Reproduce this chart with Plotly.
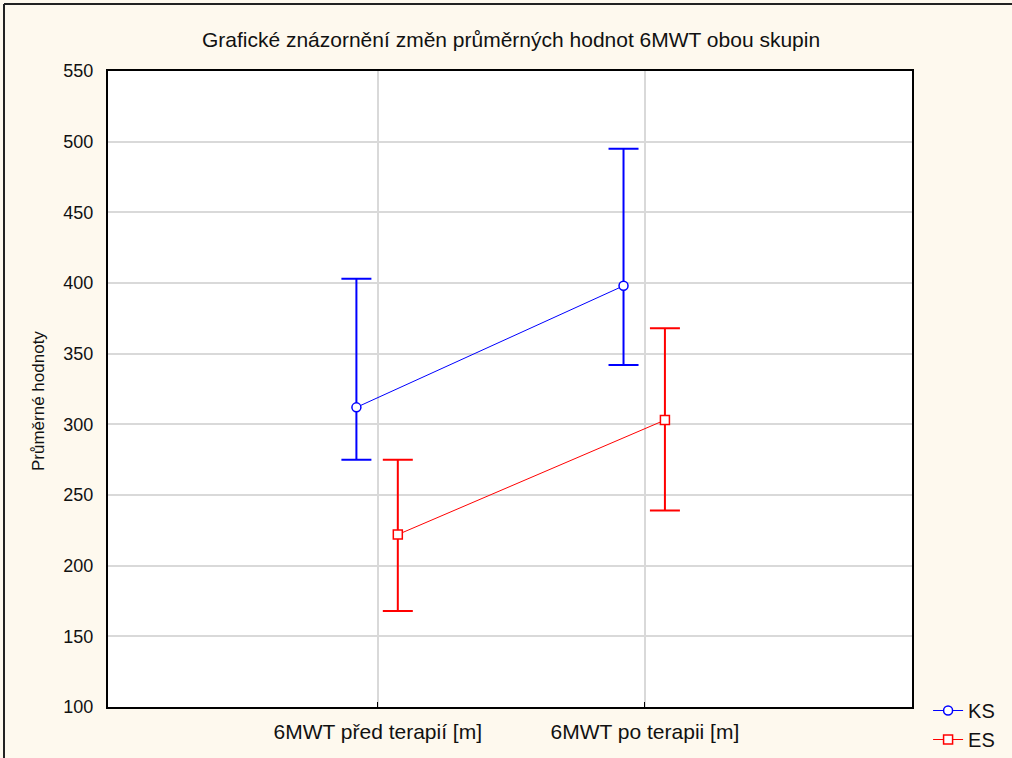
import plotly.graph_objects as go

categories = ["6MWT před terapií [m]", "6MWT po terapii [m]"]
ks_mean = [312, 398]
ks_upper = [403, 495]
ks_lower = [275, 342]
es_mean = [222, 303]
es_upper = [275, 368]
es_lower = [168, 239]

y_ticks = [100, 150, 200, 250, 300, 350, 400, 450, 500, 550]

idx = list(range(len(categories)))
ks_off, es_off = -0.08, 0.075

BG = "#FEF9EE"
W, H = 1012, 758
L, R, T, B = 108, 100, 71, 51
PW, PH = W - L - R, H - T - B

fig = go.Figure()

def add_series(name, mean, upper, lower, off, color, symbol):
    fig.add_trace(go.Scatter(
        x=[i + off for i in idx], y=mean, name=name, mode="lines+markers",
        line=dict(color=color, width=1),
        marker=dict(symbol=symbol, size=9, color="white", line=dict(color=color, width=1.5)),
        error_y=dict(type="data", symmetric=False,
                     array=[u - m for u, m in zip(upper, mean)],
                     arrayminus=[m - l for m, l in zip(mean, lower)],
                     color=color, thickness=2, width=15),
    ))

add_series("KS", ks_mean, ks_upper, ks_lower, ks_off, "#0000FF", "circle")
add_series("ES", es_mean, es_upper, es_lower, es_off, "#FF0000", "square")

font = "Liberation Sans, Arial, sans-serif"
fig.update_layout(
    width=W, height=H,
    paper_bgcolor=BG, plot_bgcolor="white",
    margin=dict(l=L, r=R, t=T, b=B, autoexpand=False),
    font=dict(family=font, size=18, color="#111111"),
    title=dict(text="Grafické znázornění změn průměrných hodnot 6MWT obou skupin",
               x=0.5 + 5 / W, xanchor="center", y=1 - 40 / H, yanchor="middle",
               font=dict(size=21)),
    showlegend=True,
    legend=dict(x=1.02, y=(H - B - 691) / PH, xanchor="left", yanchor="top",
                bgcolor="rgba(0,0,0,0)", font=dict(size=20),
                tracegroupgap=0, itemwidth=30),
    xaxis=dict(range=[-1.01, 2.0], tickvals=idx, ticktext=categories,
               showgrid=True, gridcolor="#D9D9D9", gridwidth=1.5,
               zeroline=False, showline=True, linecolor="black", linewidth=2,
               mirror=True, ticks="inside", ticklen=5, tickcolor="black",
               tickfont=dict(size=21), ticklabelstandoff=5),
    yaxis=dict(range=[100, 550], tickvals=y_ticks,
               showgrid=True, gridcolor="#D9D9D9", gridwidth=1.5,
               zeroline=False, showline=True, linecolor="black", linewidth=2,
               mirror=True, ticks="", tickfont=dict(size=18), ticklabelstandoff=9),
)

fig.add_annotation(text="Průměrné hodnoty", textangle=-90, showarrow=False,
                   xref="paper", yref="paper",
                   x=(38 - L) / PW, y=(H - B - 401) / PH,
                   xanchor="center", yanchor="middle", font=dict(size=17))

# outer frame (left and top edges)
fx = (4 - L) / PW
fy = (H - B - 4) / PH
fig.add_shape(type="line", xref="paper", yref="paper",
              x0=fx, x1=fx, y0=-B / PH, y1=fy, line=dict(color="#222222", width=2))
fig.add_shape(type="line", xref="paper", yref="paper",
              x0=fx, x1=(W - L) / PW, y0=fy, y1=fy, line=dict(color="#222222", width=2))

fig.write_html("out.html", config={"displayModeBar": False},
               post_script="document.body.style.margin='0';document.body.style.background='" + BG + "';")
